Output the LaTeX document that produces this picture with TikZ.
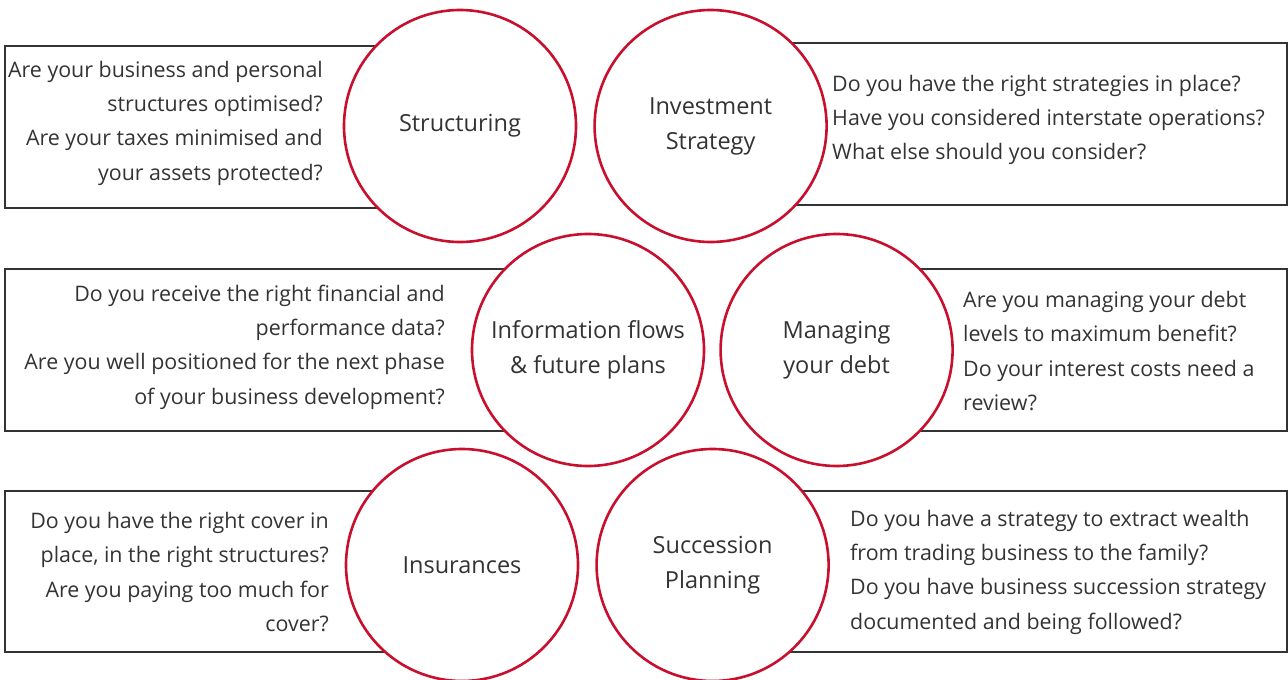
\documentclass[tikz,border=0pt]{standalone}
\usepackage{fontspec}
\setmainfont{Open Sans}
\usetikzlibrary{positioning}
\definecolor{ringred}{HTML}{C8102E}
\definecolor{inkgray}{HTML}{333333}

\begin{document}
\begin{tikzpicture}[x=1pt,y=-1pt,
    topic/.style={circle,draw=ringred,line width=2.6pt,fill=white,minimum size=232pt,
        inner sep=0pt,align=center,text=inkgray,font=\fontsize{23.5}{35}\selectfont},
    qbox/.style={draw=inkgray,line width=1.5pt},
    qtext/.style={inner sep=0pt,text=inkgray,font=\fontsize{21.4}{34.3}\selectfont},
    qleft/.style={qtext,align=right,anchor=east},
    qright/.style={qtext,align=left,anchor=west}]
    \useasboundingbox (0,0) rectangle (1288,680);

    % Boxes behind the rings
    \draw[qbox] (5,46) rectangle (460,208);
    \draw[qbox] (707,43) rectangle (1287,205);
    \draw[qbox] (5,269) rectangle (588,431);
    \draw[qbox] (832,269) rectangle (1287,431);
    \draw[qbox] (5,491) rectangle (462,652);
    \draw[qbox] (710,491) rectangle (1287,652);

    % Rings, left one of each row at a coordinate
    \node[topic] (struct) at (460,126) {Structuring};
    \node[topic,right=16pt of struct] (invest) {Investment\\Strategy};
    \node[topic] (info) at (588,350) {Information flows\\\& future plans};
    \node[topic,right=14pt of info] (debt) {Managing\\your debt};
    \node[topic] (insure) at (462,565) {Insurances};
    \node[topic,right=16pt of insure] (succ) {Succession\\Planning};

    % Questions
    \node[qleft] (qstruct) at (323,123) {Are your business and personal\\structures optimised?\\Are your taxes minimised and\\your assets protected?};
    \node[qright] (qinvest) at (832,120) {Do you have the right strategies in place?\\Have you considered interstate operations?\\What else should you consider?};
    \node[qleft] (qinfo) at (445,347) {Do you receive the right financial and\\performance data?\\Are you well positioned for the next phase\\of your business development?};
    \node[qright] (qdebt) at (963,351) {Are you managing your debt\\levels to maximum benefit?\\Do your interest costs need a\\review?};
    \node[qleft] (qinsure) at (329,572) {Do you have the right cover in\\place, in the right structures?\\Are you paying too much for\\cover?};
    \node[qright] (qsucc) at (850,572) {Do you have a strategy to extract wealth\\from trading business to the family?\\Do you have business succession strategy\\documented and being followed?};
\end{tikzpicture}
\end{document}
